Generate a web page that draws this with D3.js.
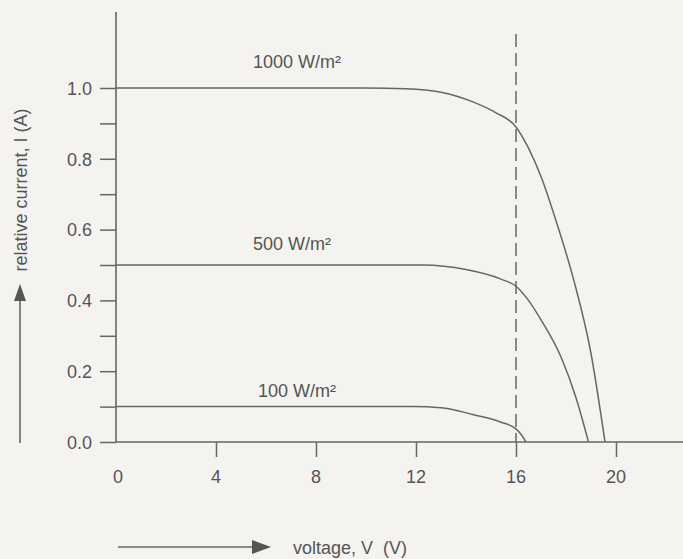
<!DOCTYPE html>
<html>
<head>
<meta charset="utf-8">
<script src="https://cdn.jsdelivr.net/npm/d3@7"></script>
<style>
  body { margin:0; background:#f4f3ef; }
  svg { display:block; }
  text { font-family:"Liberation Sans", Arial, sans-serif; fill:#555; }
</style>
</head>
<body>
<div class="container"></div>
<script>
// I-V curves of a PV module at three irradiance levels
var volts1000 = [0, 10, 11.6, 13, 14.3, 15.2, 16, 16.5, 17, 17.6, 18.3, 19, 19.56];
var amps1000  = [1.0, 1.0, 0.998, 0.988, 0.96, 0.93, 0.89, 0.83, 0.75, 0.625, 0.46, 0.25, 0];
var volts500  = [0, 12.3, 14, 15.4, 16, 16.5, 17, 17.8, 18.4, 18.9];
var amps500   = [0.5, 0.5, 0.487, 0.46, 0.44, 0.40, 0.345, 0.24, 0.125, 0];
var volts100  = [0, 11.9, 13, 14.3, 15.4, 16, 16.2, 16.4];
var amps100   = [0.1, 0.1, 0.097, 0.077, 0.056, 0.037, 0.022, 0];
var curveLabels = ["1000 W/m\u00b2", "500 W/m\u00b2", "100 W/m\u00b2"];
var xTicks = [4, 8, 12, 16, 20];
var xLabels = [0, 4, 8, 12, 16, 20];
var yTicks = [0, 0.1, 0.2, 0.3, 0.4, 0.5, 0.6, 0.7, 0.8, 0.9, 1.0];
var yLabels = [0, 0.2, 0.4, 0.6, 0.8, 1.0];
var markV = 16; // dashed line

var width = 683, height = 559;
var lineCol = "#666";
var fs = "18px";

var svg = d3.select(".container").append("svg").attr("width", width).attr("height", height);

var x = d3.scaleLinear().domain([0, 20]).range([116, 616]);
var y = d3.scaleLinear().domain([0, 1]).range([442, 88]);

// axis lines
svg.append("line").attr("x1", x(0)).attr("x2", width).attr("y1", y(0)).attr("y2", y(0))
   .attr("stroke", lineCol).attr("stroke-width", 1.6);
svg.append("line").attr("x1", x(0)).attr("x2", x(0)).attr("y1", 12).attr("y2", y(0))
   .attr("stroke", lineCol).attr("stroke-width", 1.6);

// y ticks
var yAxis = d3.axisLeft(y).tickValues(yTicks).tickSize(16).tickSizeOuter(0).tickPadding(8)
    .tickFormat(function(d){ return yLabels.some(function(v){ return Math.abs(v-d)<1e-9; }) ? d3.format(".1f")(d) : ""; });
var gy = svg.append("g").attr("transform", "translate(" + x(0) + ",0)").call(yAxis);
gy.select(".domain").remove();
gy.selectAll("line").attr("stroke", lineCol).attr("stroke-width", 1.5);
gy.selectAll("text").style("font-size", fs).attr("fill", "#555").attr("dy", "0.35em");

// x ticks
var xAxis = d3.axisBottom(x).tickValues(xTicks).tickSize(15).tickSizeOuter(0).tickFormat("");
var gx = svg.append("g").attr("transform", "translate(0," + y(0) + ")").call(xAxis);
gx.select(".domain").remove();
gx.selectAll("line").attr("stroke", lineCol).attr("stroke-width", 1.5);
svg.selectAll(".xlab").data(xLabels).enter().append("text")
   .attr("class", "xlab")
   .attr("x", function(d){ return x(d) + (d === 0 ? 2 : 0); })
   .attr("y", y(0) + 41)
   .attr("text-anchor", "middle")
   .style("font-size", fs)
   .text(function(d){ return d; });

// dashed line at 16 V
svg.append("line").attr("x1", x(markV)).attr("x2", x(markV)).attr("y1", 34).attr("y2", y(0))
   .attr("stroke", lineCol).attr("stroke-width", 1.5).attr("stroke-dasharray", "13,6");

// curves
var line = d3.line().x(function(d){ return x(d[0]); }).y(function(d){ return y(d[1]); })
    .curve(d3.curveMonotoneX);
var series = [d3.zip(volts1000, amps1000), d3.zip(volts500, amps500), d3.zip(volts100, amps100)];
svg.selectAll(".curve").data(series).enter().append("path")
   .attr("class", "curve")
   .attr("d", line)
   .attr("fill", "none")
   .attr("stroke", lineCol)
   .attr("stroke-width", 1.5);

// curve labels
var labPos = [[253, 68], [253, 250], [258, 397]];
svg.selectAll(".clab").data(curveLabels).enter().append("text")
   .attr("class", "clab")
   .attr("x", function(d, i){ return labPos[i][0]; })
   .attr("y", function(d, i){ return labPos[i][1]; })
   .style("font-size", fs)
   .text(function(d){ return d; });

// y axis title + arrow
svg.append("text")
   .attr("transform", "translate(27,190) rotate(-90)")
   .attr("text-anchor", "middle")
   .style("font-size", fs)
   .text("relative current, I (A)");
svg.append("line").attr("x1", 20).attr("x2", 20).attr("y1", 443).attr("y2", 298)
   .attr("stroke", lineCol).attr("stroke-width", 1.6);
svg.append("path").attr("d", "M20,284 L14,301 L26,301 Z").attr("fill", "#555");

// x axis title + arrow
svg.append("line").attr("x1", 118).attr("x2", 256).attr("y1", 547).attr("y2", 547)
   .attr("stroke", lineCol).attr("stroke-width", 1.6);
svg.append("path").attr("d", "M271,547 L252,540 L252,554 Z").attr("fill", "#555");
svg.append("text")
   .attr("x", 293).attr("y", 554)
   .style("font-size", fs)
   .attr("xml:space", "preserve")
   .style("white-space", "pre")
   .text("voltage, V  (V)");
</script>
</body>
</html>
